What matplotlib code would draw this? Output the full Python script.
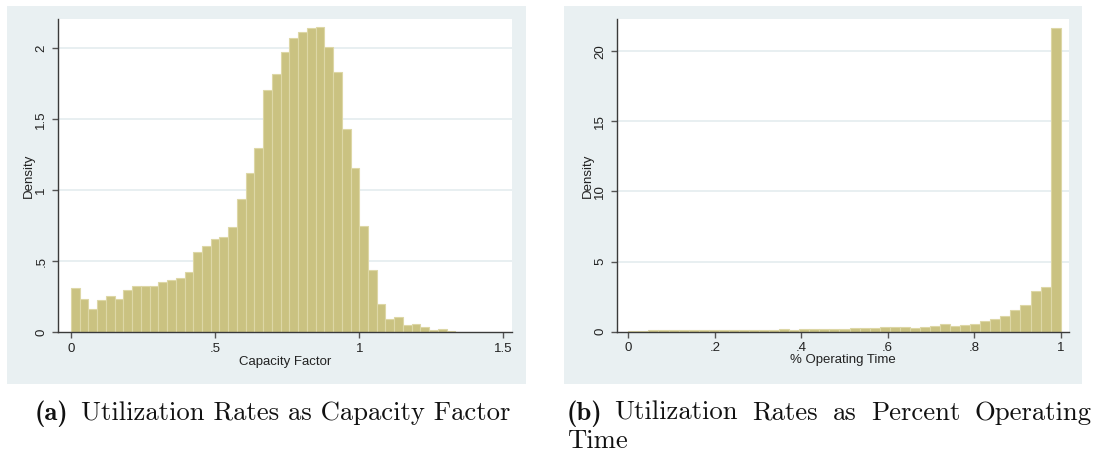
import matplotlib.pyplot as plt
import numpy as np
from matplotlib.patches import Rectangle

# histogram densities, equal-width bins starting at the minimum
cf_density = [0.311, 0.231, 0.167, 0.224, 0.254, 0.238, 0.296, 0.329, 0.329, 0.329,
              0.355, 0.365, 0.379, 0.428, 0.565, 0.605, 0.659, 0.668, 0.741, 0.941,
              1.120, 1.301, 1.704, 1.816, 1.972, 2.073, 2.113, 2.146, 2.148, 2.009,
              1.835, 1.435, 1.155, 0.751, 0.438, 0.198, 0.094, 0.106, 0.054, 0.059,
              0.035, 0.016, 0.021, 0.012]
cf_range = (0.0, 1.3336)

op_density = [0.06, 0.07, 0.11, 0.11, 0.11, 0.12, 0.14, 0.12, 0.12, 0.14,
              0.14, 0.12, 0.14, 0.14, 0.15, 0.19, 0.15, 0.19, 0.21, 0.21,
              0.21, 0.22, 0.25, 0.29, 0.29, 0.30, 0.33, 0.36, 0.29, 0.37,
              0.44, 0.56, 0.43, 0.50, 0.57, 0.77, 0.89, 1.12, 1.55, 1.90,
              2.90, 3.19, 21.65]
op_range = (0.0, 1.0)

cf_xticks = [0, 0.5, 1, 1.5]
cf_xlabels = ["0", ".5", "1", "1.5"]
cf_yticks = [0, 0.5, 1, 1.5, 2]
cf_ylabels = ["0", ".5", "1", "1.5", "2"]
op_xticks = [0, 0.2, 0.4, 0.6, 0.8, 1]
op_xlabels = ["0", ".2", ".4", ".6", ".8", "1"]
op_yticks = [0, 5, 10, 15, 20]
op_ylabels = ["0", "5", "10", "15", "20"]

cap_a = "Utilization Rates as Capacity Factor"
cap_b1 = "Utilization Rates as Percent Operating"
cap_b2 = "Time"

BG = "#e9f0f2"
GRID = "#e4ecef"
BAR = "#cac281"
BAR_EDGE = "#ddd7a6"
W, H = 1094, 455

plt.rcParams["font.family"] = ["Liberation Sans", "DejaVu Sans"]

fig = plt.figure(figsize=(W / 100, H / 100), dpi=100)
fig.patch.set_facecolor("white")


def px_box(x0, y0, x1, y1):
    # pixel box (top-left origin) -> figure fraction [left, bottom, width, height]
    return [x0 / W, 1 - y1 / H, (x1 - x0) / W, (y1 - y0) / H]


def stata_hist(panel, plot, density, rng, xlim, ylim, xt, xl, yt, yl, xlabel, label_y):
    fig.add_artist(Rectangle((panel[0], panel[1]), panel[2], panel[3],
                             transform=fig.transFigure, facecolor=BG,
                             edgecolor="none", zorder=-5))
    ax = fig.add_axes(plot)
    n = len(density)
    width = (rng[1] - rng[0]) / n
    left = rng[0] + width * np.arange(n)
    ax.bar(left, density, width=width, align="edge", color=BAR,
           edgecolor=BAR_EDGE, linewidth=0.8, zorder=2)
    ax.set_xlim(*xlim)
    ax.set_ylim(*ylim)
    ax.set_xticks(xt, xl)
    ax.set_yticks(yt, yl)
    for y in yt[1:]:
        ax.axhline(y, color=GRID, linewidth=1.2, zorder=1)
    for s in ("top", "right"):
        ax.spines[s].set_visible(False)
    for s in ("left", "bottom"):
        ax.spines[s].set_color("#3a3a3a")
        ax.spines[s].set_linewidth(1.0)
    ax.tick_params(axis="both", length=4.5, width=1.0, color="#555555",
                   labelsize=9.5, labelcolor="#222222", pad=3)
    for t in ax.get_yticklabels():
        t.set_rotation(90)
        t.set_va("center")
    ax.set_xlabel(xlabel, fontsize=9.5, color="#222222")
    ax.xaxis.set_label_coords(0.5, label_y)
    ax.set_ylabel("Density", fontsize=9.5, color="#222222", labelpad=0)
    ax.set_facecolor("white")
    return ax


stata_hist(px_box(7, 6, 526, 384), px_box(57.7, 19.3, 512.3, 332.3),
           cf_density, cf_range, (-0.046, 1.531), (0, 2.204),
           cf_xticks, cf_xlabels, cf_yticks, cf_ylabels, "Capacity Factor", -0.075)

stata_hist(px_box(564, 6, 1082, 384), px_box(616.7, 19, 1069.3, 331.7),
           op_density, op_range, (-0.0268, 1.0199), (0, 22.29),
           op_xticks, op_xlabels, op_yticks, op_ylabels, "% Operating Time", -0.072)

# subfigure captions
renderer = fig.canvas.get_renderer()
cap = dict(fontsize=19.2, va="baseline", color="#111111")


def justified(words, x0, x1, y):
    # spread words between x0 and x1 like a justified line
    items = [fig.text(0, 1 - y / H, w, fontfamily="cmr10", **cap) for w in words]
    widths = [t.get_window_extent(renderer).width for t in items]
    gap = (x1 - x0 - sum(widths)) / (len(words) - 1)
    x = x0
    for t, w in zip(items, widths):
        t.set_x(x / W)
        x += w + gap


fig.text(35 / W, 1 - 420 / H, "(a)", fontfamily="cmb10", **cap)
fig.text(81 / W, 1 - 420 / H, cap_a, fontfamily="cmr10", **cap)
fig.text(567 / W, 1 - 420 / H, "(b)", fontfamily="cmb10", **cap)
justified(cap_b1.split(), 614, 1092, 420)
fig.text(567 / W, 1 - 448 / H, cap_b2, fontfamily="cmr10", **cap)

fig.savefig("out.png", dpi=100, facecolor="white")
